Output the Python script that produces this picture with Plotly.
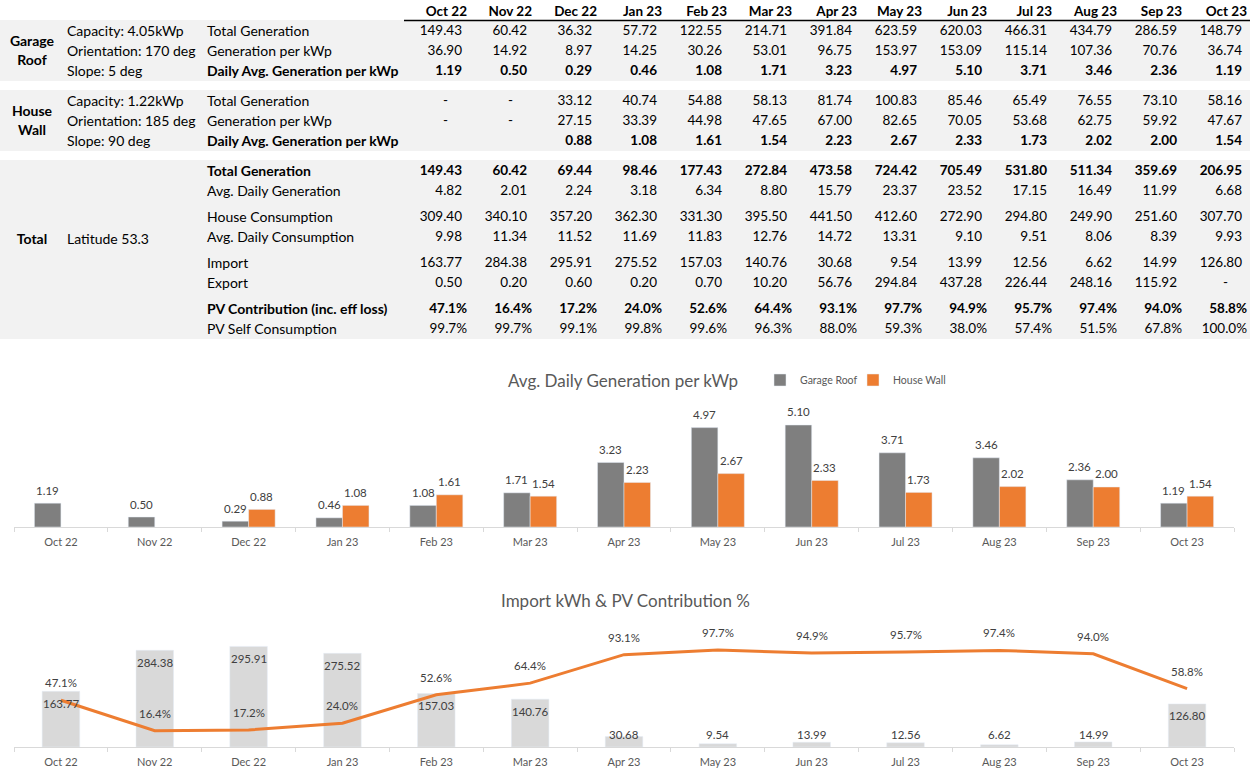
import plotly.graph_objects as go

# ---------------- data ----------------
months = ["Oct 22", "Nov 22", "Dec 22", "Jan 23", "Feb 23", "Mar 23", "Apr 23",
          "May 23", "Jun 23", "Jul 23", "Aug 23", "Sep 23", "Oct 23"]

garage_info = ["Capacity: 4.05kWp", "Orientation: 170 deg", "Slope: 5 deg"]
wall_info = ["Capacity: 1.22kWp", "Orientation: 185 deg", "Slope: 90 deg"]

garage_total = [149.43, 60.42, 36.32, 57.72, 122.55, 214.71, 391.84, 623.59, 620.03, 466.31, 434.79, 286.59, 148.79]
garage_per_kwp = [36.90, 14.92, 8.97, 14.25, 30.26, 53.01, 96.75, 153.97, 153.09, 115.14, 107.36, 70.76, 36.74]
garage_daily = [1.19, 0.50, 0.29, 0.46, 1.08, 1.71, 3.23, 4.97, 5.10, 3.71, 3.46, 2.36, 1.19]

wall_total = [None, None, 33.12, 40.74, 54.88, 58.13, 81.74, 100.83, 85.46, 65.49, 76.55, 73.10, 58.16]
wall_per_kwp = [None, None, 27.15, 33.39, 44.98, 47.65, 67.00, 82.65, 70.05, 53.68, 62.75, 59.92, 47.67]
wall_daily = [None, None, 0.88, 1.08, 1.61, 1.54, 2.23, 2.67, 2.33, 1.73, 2.02, 2.00, 1.54]

total_gen = [149.43, 60.42, 69.44, 98.46, 177.43, 272.84, 473.58, 724.42, 705.49, 531.80, 511.34, 359.69, 206.95]
avg_daily_gen = [4.82, 2.01, 2.24, 3.18, 6.34, 8.80, 15.79, 23.37, 23.52, 17.15, 16.49, 11.99, 6.68]
house_cons = [309.40, 340.10, 357.20, 362.30, 331.30, 395.50, 441.50, 412.60, 272.90, 294.80, 249.90, 251.60, 307.70]
avg_daily_cons = [9.98, 11.34, 11.52, 11.69, 11.83, 12.76, 14.72, 13.31, 9.10, 9.51, 8.06, 8.39, 9.93]
import_kwh = [163.77, 284.38, 295.91, 275.52, 157.03, 140.76, 30.68, 9.54, 13.99, 12.56, 6.62, 14.99, 126.80]
export_kwh = [0.50, 0.20, 0.60, 0.20, 0.70, 10.20, 56.76, 294.84, 437.28, 226.44, 248.16, 115.92, None]
pv_contrib = [47.1, 16.4, 17.2, 24.0, 52.6, 64.4, 93.1, 97.7, 94.9, 95.7, 97.4, 94.0, 58.8]
pv_self = [99.7, 99.7, 99.1, 99.8, 99.6, 96.3, 88.0, 59.3, 38.0, 57.4, 51.5, 67.8, 100.0]

# ---------------- layout constants ----------------
W, H = 1250, 779
FONT = "Lato"
TXT = "#000000"
GREY_TXT = "#595959"
LABEL_TXT = "#404040"
ORANGE = "#ed7d31"
DARK_BAR = "#7f7f7f"
LIGHT_BAR = "#d9d9d9"
LBL_SIZE = 14
NUM_SIZE = 13.5
DL_SIZE = 11.5
AX_X0, AX_X1 = 14, 1234
BARGAP = 0.435
ROW_NUDGE = 1

fig = go.Figure()

# ---------------- table (on its own pixel-like axis) ----------------
col_right = [462 + 65 * i for i in range(len(months))]
pct_right = [r + 5 for r in col_right]

def add_text(xs, ys, texts, pos, bold=False, size=LBL_SIZE, color=TXT):
    t = [("<b>%s</b>" % s if (bold and s) else s) for s in texts]
    fig.add_trace(go.Scatter(x=xs, y=[y + ROW_NUDGE for y in ys], text=t, mode="text", textposition=pos,
                             textfont=dict(family=FONT, size=size, color=color),
                             xaxis="x3", yaxis="y3", showlegend=False, hoverinfo="skip"))

def num_row(vals, y, bold=False, dash=True):
    xs, ts = [], []
    for i, v in enumerate(vals):
        if v is None:
            if dash:
                xs.append(col_right[i] - 14)
                ts.append("-")
        else:
            xs.append(col_right[i])
            ts.append("%.2f" % v)
    add_text(xs, [y] * len(xs), ts, "middle left", bold, size=NUM_SIZE)

def pct_row(vals, y, bold=False):
    add_text(pct_right, [y] * len(vals), ["%.1f%%" % v for v in vals], "middle left", bold, size=NUM_SIZE)

# header
add_text(pct_right, [12] * len(months), months, "middle left", bold=True, size=NUM_SIZE)

rows = [
    ("Total Generation", garage_total, 31, False, "num", True),
    ("Generation per kWp", garage_per_kwp, 51, False, "num", True),
    ("Daily Avg. Generation per kWp", garage_daily, 71, True, "num", False),
    ("Total Generation", wall_total, 101, False, "num", True),
    ("Generation per kWp", wall_per_kwp, 121, False, "num", True),
    ("Daily Avg. Generation per kWp", wall_daily, 141, True, "num", False),
    ("Total Generation", total_gen, 171, True, "num", True),
    ("Avg. Daily Generation", avg_daily_gen, 191, False, "num", True),
    ("House Consumption", house_cons, 217, False, "num", True),
    ("Avg. Daily Consumption", avg_daily_cons, 237, False, "num", True),
    ("Import", import_kwh, 263, False, "num", True),
    ("Export", export_kwh, 283, False, "num", True),
    ("PV Contribution (inc. eff loss)", pv_contrib, 309, True, "pct", True),
    ("PV Self Consumption", pv_self, 329, False, "pct", True),
]
for label, vals, y, bold, kind, dash in rows:
    add_text([207], [y], [label], "middle right", bold)
    if kind == "num":
        num_row(vals, y, bold, dash)
    else:
        pct_row(vals, y, bold)

add_text([67, 67, 67], [31, 51, 71], garage_info, "middle right")
add_text([67, 67, 67], [101, 121, 141], wall_info, "middle right")
add_text([67], [239], ["Latitude 53.3"], "middle right")
add_text([32, 32, 32], [51, 121, 239], ["Garage<br>Roof", "House<br>Wall", "Total"], "middle center", bold=True)

shapes = []
for y0, y1 in [(20, 81), (90, 151), (160, 339)]:
    shapes.append(dict(type="rect", xref="x3", yref="y3", x0=0, x1=1250, y0=y0, y1=y1,
                       fillcolor="#f2f2f2", line=dict(width=0), layer="below"))
shapes.append(dict(type="line", xref="x3", yref="y3", x0=404, x1=1250, y0=20.5, y1=20.5,
                   line=dict(color="#000000", width=1.5)))

# ---------------- chart 1 ----------------
fig.add_trace(go.Bar(x=months, y=garage_daily, name="Garage Roof", marker_color=DARK_BAR,
                     xaxis="x", yaxis="y", hoverinfo="skip"))
fig.add_trace(go.Bar(x=months, y=wall_daily, name="House Wall", marker_color=ORANGE,
                     xaxis="x", yaxis="y", hoverinfo="skip"))

annotations = []
cat_w = (AX_X1 - AX_X0) / len(months)
half = cat_w * (1 - BARGAP) / 4  # centre offset of each of the two grouped bars
lbl_font = dict(family=FONT, size=DL_SIZE, color=LABEL_TXT)
for m, g, w in zip(months, garage_daily, wall_daily):
    annotations.append(dict(x=m, y=g, xref="x", yref="y", text="%.2f" % g, showarrow=False,
                            xshift=-half, yshift=13, yanchor="middle", font=lbl_font))
    if w is not None:
        annotations.append(dict(x=m, y=w, xref="x", yref="y", text="%.2f" % w, showarrow=False,
                                xshift=half, yshift=13, yanchor="middle", font=lbl_font))

# ---------------- chart 2 ----------------
fig.add_trace(go.Bar(x=months, y=import_kwh, name="Import", marker_color=LIGHT_BAR, width=0.4,
                     showlegend=False, offsetgroup="imp",
                     xaxis="x2", yaxis="y2", hoverinfo="skip"))
fig.add_trace(go.Scatter(x=months, y=[v / 100 for v in pv_contrib], mode="lines",
                         line=dict(color=ORANGE, width=3), showlegend=False,
                         xaxis="x2", yaxis="y4", hoverinfo="skip"))

IMP_MAX = 350
plot2_h = 747 - 628
for m, v in zip(months, import_kwh):
    px_h = v / IMP_MAX * plot2_h
    if px_h > 25:
        annotations.append(dict(x=m, y=v, xref="x2", yref="y2", text="%.2f" % v, showarrow=False,
                                yshift=-12, yanchor="middle", font=lbl_font))
    else:
        annotations.append(dict(x=m, y=0, xref="x2", yref="y2", text="%.2f" % v, showarrow=False,
                                yshift=13, yanchor="middle", font=lbl_font))
for m, p in zip(months, pv_contrib):
    annotations.append(dict(x=m, y=p / 100, xref="x2", yref="y4", text="%.1f%%" % p, showarrow=False,
                            yshift=17.5, yanchor="middle", font=lbl_font))

def py(p):
    return 1 - p / H

annotations += [
    dict(text="Avg. Daily Generation per kWp", x=623 / W, y=py(380), xref="paper", yref="paper",
         showarrow=False, xanchor="center", yanchor="middle",
         font=dict(family=FONT, size=17, color=GREY_TXT)),
    dict(text="Import kWh & PV Contribution %", x=625 / W, y=py(600), xref="paper", yref="paper",
         showarrow=False, xanchor="center", yanchor="middle",
         font=dict(family=FONT, size=17, color=GREY_TXT)),
]

xcat = dict(type="category", showline=True, linecolor="#d9d9d9", linewidth=1,
            ticks="outside", tickson="boundaries", ticklen=4, tickcolor="#d9d9d9",
            showgrid=False, zeroline=False, ticklabelstandoff=5,
            tickfont=dict(family=FONT, size=11, color=GREY_TXT), domain=[AX_X0 / W, AX_X1 / W])

fig.update_layout(
    width=W, height=H, margin=dict(l=0, r=0, t=0, b=0),
    paper_bgcolor="white", plot_bgcolor="rgba(0,0,0,0)",
    barmode="group", bargap=BARGAP, bargroupgap=0,
    font=dict(family=FONT, color=GREY_TXT),
    xaxis=dict(**xcat, anchor="y"),
    yaxis=dict(domain=[py(527), py(407)], range=[0, 6], visible=False, anchor="x"),
    xaxis2=dict(**xcat, anchor="y2"),
    yaxis2=dict(domain=[py(747), py(628)], range=[0, IMP_MAX], visible=False, anchor="x2"),
    yaxis4=dict(overlaying="y2", range=[0, 1.2], visible=False, anchor="x2", side="right"),
    xaxis3=dict(domain=[0, 1], range=[0, W], visible=False, anchor="y3", fixedrange=True),
    yaxis3=dict(domain=[py(345), 1], range=[345, 0], visible=False, anchor="x3", fixedrange=True),
    shapes=shapes,
    annotations=annotations,
    legend=dict(orientation="h", x=760 / W, y=py(380), xanchor="left", yanchor="middle",
                font=dict(family=FONT, size=10.5, color=GREY_TXT), itemwidth=30,
                entrywidth=48, entrywidthmode="pixels",
                bgcolor="rgba(0,0,0,0)", traceorder="normal"),
)

fig.write_html("out.html", config={"displayModeBar": False},
               post_script="document.body.style.margin='0';document.body.style.overflow='hidden';")
